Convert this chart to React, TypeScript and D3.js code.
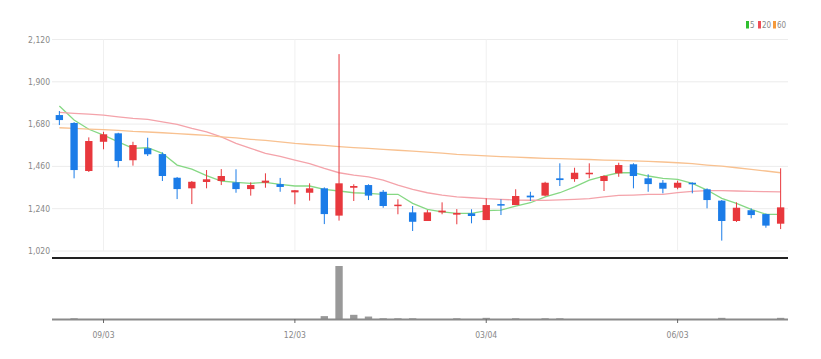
import * as d3 from "d3";

// chart size + plot box
const width = 821;
const height = 359;
const plotLeft = 52;
const plotRight = 788;
const priceTop = 39.5;
const priceBottom = 251;
const volTop = 266;
const volBottom = 320;

const dates = [
  "2018-08-13", "2018-08-20", "2018-08-27", "2018-09-03", "2018-09-10", "2018-09-17", "2018-09-24",
  "2018-10-01", "2018-10-08", "2018-10-15", "2018-10-22", "2018-10-29", "2018-11-05", "2018-11-12",
  "2018-11-19", "2018-11-26", "2018-12-03", "2018-12-10", "2018-12-17", "2018-12-24", "2018-12-31",
  "2019-01-07", "2019-01-14", "2019-01-21", "2019-01-28", "2019-02-04", "2019-02-11", "2019-02-18",
  "2019-02-25", "2019-03-04", "2019-03-11", "2019-03-18", "2019-03-25", "2019-04-01", "2019-04-08",
  "2019-04-15", "2019-04-22", "2019-04-29", "2019-05-06", "2019-05-13", "2019-05-20", "2019-05-27",
  "2019-06-03", "2019-06-10", "2019-06-17", "2019-06-24", "2019-07-01", "2019-07-08", "2019-07-15",
  "2019-07-22",
];
const tickDates = ["2018-09-03", "2018-12-03", "2019-03-04", "2019-06-03"];
const priceTicks = [1020, 1240, 1460, 1680, 1900, 2120];

const open = [
  1727, 1686, 1436, 1588, 1632, 1492, 1554, 1524, 1401, 1346, 1379, 1384, 1377, 1342, 1375, 1368, 1325,
  1323, 1346, 1204, 1349, 1363, 1328, 1254, 1221, 1176, 1221, 1209, 1216, 1181, 1264, 1259, 1308, 1308,
  1398, 1394, 1419, 1384, 1424, 1471, 1398, 1375, 1349, 1375, 1341, 1282, 1176, 1232, 1212, 1162,
];
const high = [
  1748, 1690, 1611, 1640, 1635, 1588, 1609, 1533, 1405, 1384, 1441, 1446, 1445, 1377, 1424, 1400, 1337,
  1372, 1351, 2044, 1367, 1367, 1337, 1289, 1254, 1233, 1273, 1238, 1237, 1294, 1289, 1341, 1328, 1380,
  1476, 1453, 1476, 1414, 1479, 1476, 1419, 1389, 1386, 1377, 1346, 1285, 1273, 1242, 1215, 1450,
];
const low = [
  1675, 1398, 1431, 1549, 1455, 1464, 1514, 1384, 1290, 1264, 1346, 1363, 1323, 1308, 1349, 1328, 1263,
  1282, 1160, 1178, 1280, 1285, 1245, 1211, 1124, 1176, 1211, 1159, 1164, 1181, 1207, 1259, 1280, 1305,
  1358, 1380, 1398, 1332, 1406, 1346, 1328, 1320, 1341, 1320, 1242, 1074, 1171, 1190, 1141, 1134,
];
const close = [
  1701, 1441, 1592, 1627, 1488, 1571, 1523, 1410, 1342, 1380, 1393, 1410, 1342, 1363, 1386, 1353, 1336,
  1346, 1212, 1372, 1358, 1308, 1254, 1261, 1172, 1221, 1230, 1218, 1202, 1259, 1256, 1306, 1299, 1375,
  1389, 1427, 1427, 1410, 1467, 1410, 1368, 1344, 1375, 1367, 1285, 1176, 1245, 1207, 1152, 1247,
];
const volume = [
  8000, 40000, 8000, 8000, 8000, 8000, 8000, 8000, 8000, 8000, 8000, 8000, 8000, 8000, 8000, 8000, 8000,
  8000, 90000, 1250000, 120000, 80000, 40000, 40000, 40000, 8000, 8000, 40000, 8000, 50000, 8000, 40000,
  8000, 40000, 40000, 8000, 8000, 8000, 8000, 8000, 8000, 8000, 8000, 8000, 8000, 50000, 8000, 8000,
  8000, 50000,
];

// moving averages as shown on the chart
const ma5 = [
  1774, 1701, 1653, 1623, 1588, 1554, 1557, 1528, 1467, 1446, 1412, 1384, 1377, 1372, 1377, 1367, 1358,
  1358, 1341, 1332, 1323, 1320, 1315, 1315, 1268, 1237, 1224, 1216, 1216, 1230, 1233, 1254, 1271, 1302,
  1323, 1354, 1389, 1410, 1427, 1427, 1410, 1398, 1393, 1372, 1337, 1294, 1268, 1237, 1211, 1211,
];
const ma20 = [
  1741, 1736, 1732, 1727, 1718, 1710, 1705, 1692, 1679, 1658, 1640, 1614, 1580, 1554, 1528, 1512, 1493,
  1475, 1450, 1427, 1415, 1406, 1389, 1363, 1341, 1323, 1311, 1302, 1297, 1292, 1289, 1285, 1284, 1283,
  1286, 1289, 1292, 1301, 1309, 1311, 1314, 1315, 1324, 1330, 1334, 1334, 1332, 1330, 1329, 1328,
];
const ma60 = [
  1661, 1658, 1654, 1651, 1647, 1642, 1639, 1635, 1630, 1626, 1621, 1614, 1608, 1601, 1595, 1588, 1580,
  1574, 1569, 1563, 1558, 1554, 1549, 1544, 1539, 1534, 1529, 1523, 1519, 1515, 1511, 1508, 1505, 1502,
  1500, 1498, 1496, 1493, 1491, 1489, 1486, 1483, 1479, 1474, 1467, 1461, 1453, 1445, 1436, 1427,
];

const upColor = "#e8383d";
const downColor = "#1b7ce8";
const maLines = [
  { name: "5", values: ma5, color: "#86d884", key: "#2fbf2f" },
  { name: "20", values: ma20, color: "#f4a3aa", key: "#ef4d57" },
  { name: "60", values: ma60, color: "#f8c190", key: "#f59a3c" },
];
const font = "'DejaVu Sans Condensed', 'Liberation Sans Narrow', sans-serif";

const App = () => {
  const x = d3.scaleBand().domain(dates).range([plotLeft, plotRight]).paddingInner(0.5).paddingOuter(0.25);
  const y = d3.scaleLinear().domain([1020, 2120]).range([priceBottom, priceTop]);
  const yVol = d3.scaleLinear().domain([0, 1250000]).range([volBottom, volTop]);
  const cx = (d: string) => (x(d) ?? 0) + x.bandwidth() / 2;
  const fmtTick = (d: string) => d3.timeFormat("%m/%d")(d3.timeParse("%Y-%m-%d")(d)!);

  const line = (vals: number[]) =>
    d3.line<number>().x((_, i) => cx(dates[i])).y((v) => y(v))(vals) ?? "";

  return (
    <svg width={width} height={height} style={{ position: "absolute", left: 0, top: 0, display: "block" }}>
      <rect width={width} height={height} fill="#fff" />
      {/* grid */}
      {priceTicks.map((t) => (
        <line key={t} x1={plotLeft} x2={plotRight} y1={y(t)} y2={y(t)} stroke="#ececec" />
      ))}
      {tickDates.map((d) => (
        <line key={d} x1={cx(d)} x2={cx(d)} y1={priceTop} y2={priceBottom} stroke="#f0f0f0" />
      ))}
      {priceTicks.map((t) => (
        <text key={t} x={50} y={y(t) + 3} textAnchor="end" fontSize={8.5} fill="#888" fontFamily={font}>
          {d3.format(",")(t)}
        </text>
      ))}

      {/* moving averages */}
      {maLines.map((m) => (
        <path key={m.name} d={line(m.values)} fill="none" stroke={m.color} strokeWidth={1.3} />
      ))}

      {/* candles */}
      {dates.map((d, i) => {
        const c = close[i] >= open[i] ? upColor : downColor;
        const top = y(Math.max(open[i], close[i]));
        const bot = y(Math.min(open[i], close[i]));
        return (
          <g key={d}>
            <line x1={cx(d)} x2={cx(d)} y1={y(high[i])} y2={y(low[i])} stroke={c} strokeWidth={1} />
            <rect x={x(d)} y={top} width={x.bandwidth()} height={Math.max(1.5, bot - top)} fill={c} />
          </g>
        );
      })}

      {/* panel divider */}
      <line x1={plotLeft} x2={plotRight} y1={258} y2={258} stroke="#222" strokeWidth={2} />

      {/* volume */}
      {dates.map((d, i) => (
        <rect key={d} x={x(d)} y={yVol(volume[i])} width={x.bandwidth()} height={volBottom - yVol(volume[i])} fill="#999" />
      ))}
      <line x1={plotLeft} x2={plotRight} y1={319.5} y2={319.5} stroke="#8a8a8a" strokeWidth={2} />
      {tickDates.map((d) => (
        <g key={d}>
          <line x1={cx(d)} x2={cx(d)} y1={319} y2={323} stroke="#666" />
          <text x={cx(d)} y={338} textAnchor="middle" fontSize={8.5} fill="#888" fontFamily={font}>
            {fmtTick(d)}
          </text>
        </g>
      ))}

      {/* legend */}
      {maLines.map((m, i) => {
        const lx = [746, 758, 773][i];
        return (
          <g key={m.name}>
            <rect x={lx} y={21} width={3} height={7.5} fill={m.key} />
            <text x={lx + 4} y={28} fontSize={8} fill="#888" fontFamily={font}>
              {m.name}
            </text>
          </g>
        );
      })}
    </svg>
  );
};

export default App;
